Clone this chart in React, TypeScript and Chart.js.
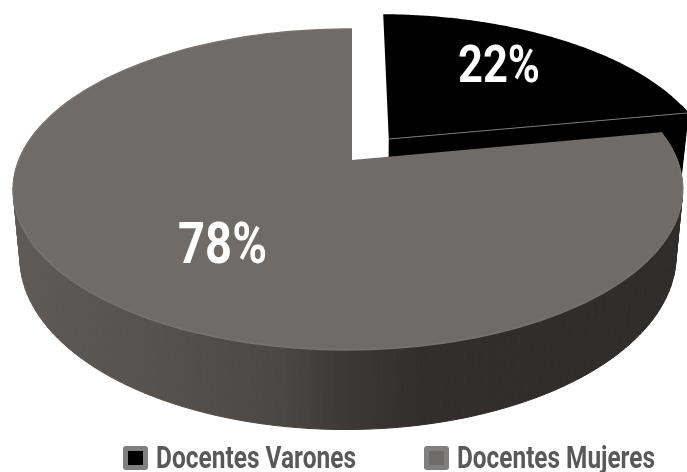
import React, { useEffect, useRef } from "react";
import { Chart, registerables } from "chart.js";

Chart.register(...registerables);

const categories = ["Docentes Varones", "Docentes Mujeres"];
const shares = [22, 78];
const sliceColors = ["#000000", "#6f6b69"];
const labelBoxes = [
  { x: 458, width: 82, baseline: 82, size: 51 },
  { x: 178, width: 89, baseline: 263, size: 57 },
];
const legendBoxes = [
  { swatch: 123, text: 156, width: 200 },
  { swatch: 424, text: 457, width: 198 },
];

const CX = 352;
const CY = 160;
const AX = 329;
const AY = 155;
const P = 0.1837;
const Q = 0.012;
const DEPTH = 65;
const FONT = 'Roboto, "Liberation Sans", sans-serif';

const project = (u: number, v: number, h = 0) => {
  const w = 1 - P * v + Q * u;
  const shrink = h > 0 ? 0.98 : 1;
  return [CX + (AX * u * shrink) / w, CY + (AY * v + h) / w];
};

const fitText = (
  ctx: CanvasRenderingContext2D,
  text: string,
  x: number,
  baseline: number,
  width: number
) => {
  const natural = ctx.measureText(text).width;
  ctx.save();
  ctx.translate(x, baseline);
  ctx.scale(width / natural, 1);
  ctx.fillText(text, 0, 0);
  ctx.restore();
};

const piePlugin = {
  id: "projectedPie",
  beforeDatasetsDraw(chart: any) {
    const ctx = chart.ctx as CanvasRenderingContext2D;
    const arcs = chart.getDatasetMeta(0).data as any[];
    for (const i of [0, 1]) {
      const arc = arcs[i];
      const start = arc.startAngle;
      const end = arc.endAngle;
      const mid = (start + end) / 2;
      const d = (arc.options.offset || 0) / arc.outerRadius;
      const ox = Math.cos(mid) * d;
      const oy = Math.sin(mid) * d;
      const n = 160;
      const angle = (t: number) => start + (end - start) * t;
      const rim = (t: number, h: number) => {
        const a = angle(t);
        return project(ox + Math.cos(a), oy + Math.sin(a), h);
      };
      let wall: string | CanvasGradient = sliceColors[i];
      if (i === 1) {
        const g = ctx.createLinearGradient(13, 0, 687, 0);
        g.addColorStop(0, "#5e5a57");
        g.addColorStop(0.2, "#565250");
        g.addColorStop(0.4, "#4b4745");
        g.addColorStop(0.48, "#3e3a39");
        g.addColorStop(0.6, "#322e2e");
        g.addColorStop(1, "#2f2c2c");
        wall = g;
      }
      ctx.fillStyle = wall;
      ctx.strokeStyle = wall;
      ctx.lineWidth = 1;
      for (let k = 0; k < n; k++) {
        // only the part of the rim that faces the viewer has a visible wall
        if (Math.sin(angle((k + 0.5) / n)) < -0.25) continue;
        const p0 = rim(k / n, 0);
        const p1 = rim((k + 1) / n, 0);
        const q1 = rim((k + 1) / n, DEPTH);
        const q0 = rim(k / n, DEPTH);
        ctx.beginPath();
        ctx.moveTo(p0[0], p0[1]);
        ctx.lineTo(p1[0], p1[1]);
        ctx.lineTo(q1[0], q1[1]);
        ctx.lineTo(q0[0], q0[1]);
        ctx.closePath();
        ctx.fill();
        ctx.stroke();
      }
      const apexTop = project(ox, oy, 0);
      const apexBottom = project(ox, oy, DEPTH);
      if (i === 0) {
        const a = rim(1, 0);
        const b = rim(1, DEPTH);
        ctx.beginPath();
        ctx.moveTo(apexTop[0], apexTop[1]);
        ctx.lineTo(a[0], a[1]);
        ctx.lineTo(b[0], b[1]);
        ctx.lineTo(apexBottom[0], apexBottom[1]);
        ctx.closePath();
        ctx.fill();
      }
      ctx.beginPath();
      ctx.moveTo(apexTop[0], apexTop[1]);
      for (let k = 0; k <= n; k++) {
        const p = rim(k / n, 0);
        ctx.lineTo(p[0], p[1]);
      }
      ctx.closePath();
      ctx.fillStyle = sliceColors[i];
      ctx.fill();
      ctx.beginPath();
      if (i === 0) {
        const e = rim(1, 0);
        ctx.moveTo(apexTop[0], apexTop[1]);
        ctx.lineTo(e[0], e[1]);
        ctx.lineWidth = 1;
      } else {
        for (let k = 0; k <= n; k++) {
          const p = rim(k / n, 0);
          if (k === 0) ctx.moveTo(p[0], p[1]);
          else ctx.lineTo(p[0], p[1]);
        }
        ctx.lineWidth = 1.5;
      }
      ctx.strokeStyle = "#77736f";
      ctx.stroke();
    }
    return false;
  },
  afterDraw(chart: any) {
    const ctx = chart.ctx as CanvasRenderingContext2D;
    ctx.save();
    ctx.textAlign = "left";
    ctx.textBaseline = "alphabetic";
    ctx.fillStyle = "#ffffff";
    shares.forEach((value, i) => {
      const box = labelBoxes[i];
      ctx.font = `bold ${box.size}px ${FONT}`;
      fitText(ctx, `${value}%`, box.x, box.baseline, box.width);
    });
    categories.forEach((name, i) => {
      const box = legendBoxes[i];
      ctx.fillStyle = "#7f7f7f";
      ctx.beginPath();
      ctx.roundRect(box.swatch, 446, 25, 24, 3);
      ctx.fill();
      ctx.fillStyle = sliceColors[i];
      ctx.fillRect(box.swatch + 5, 451, 15, 14);
      ctx.fillStyle = "#595959";
      ctx.font = `bold 31px ${FONT}`;
      fitText(ctx, name, box.text, 468, box.width);
    });
    ctx.restore();
  },
};

export default function App() {
  const ref = useRef<HTMLCanvasElement>(null);
  useEffect(() => {
    document.body.style.margin = "0";
    const chart = new Chart(ref.current as HTMLCanvasElement, {
      type: "pie",
      data: {
        labels: categories,
        datasets: [
          {
            data: shares,
            backgroundColor: sliceColors,
            borderWidth: 0,
            offset: [39, 0],
          },
        ],
      },
      options: {
        responsive: false,
        animation: false,
        plugins: {
          tooltip: { enabled: false },
          legend: { display: false },
        },
      },
      plugins: [piePlugin],
    } as any);
    return () => chart.destroy();
  }, []);
  return <canvas ref={ref} width={687} height={472} style={{ display: "block" }} />;
}
